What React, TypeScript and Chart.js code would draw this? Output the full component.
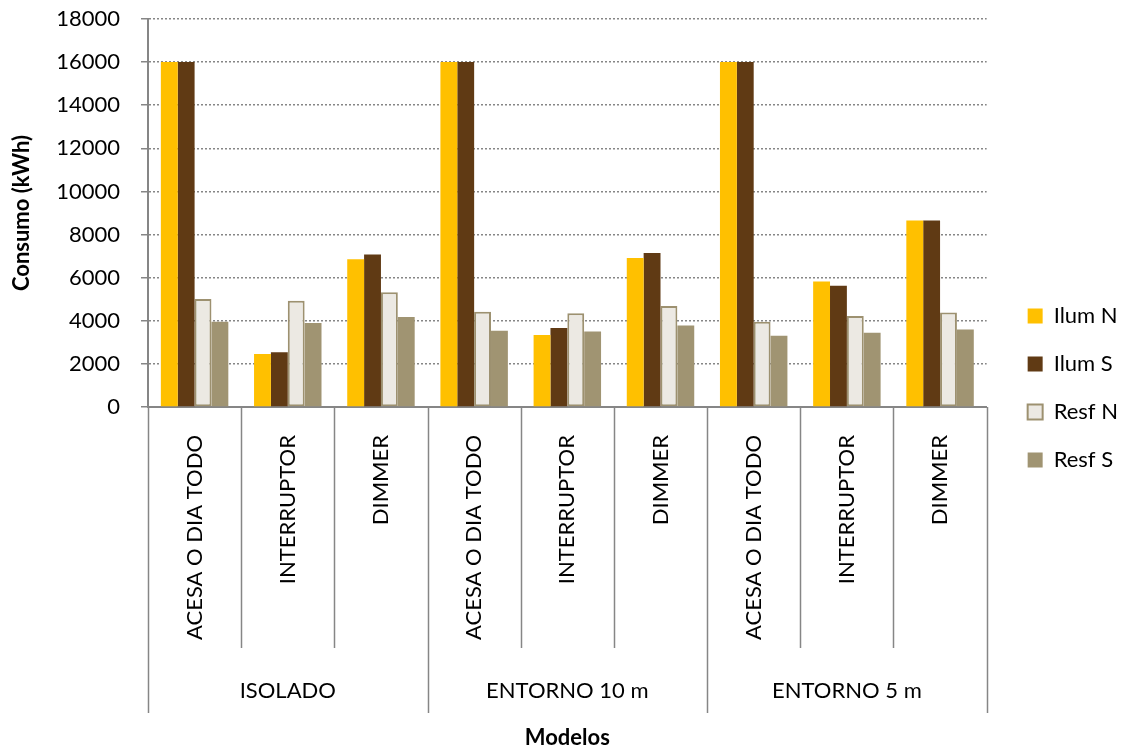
import React, { useEffect, useRef } from 'react';
import { Chart, registerables } from 'chart.js';

Chart.register(...registerables);

const categories = [
  'ACESA O DIA TODO', 'INTERRUPTOR', 'DIMMER',
  'ACESA O DIA TODO', 'INTERRUPTOR', 'DIMMER',
  'ACESA O DIA TODO', 'INTERRUPTOR', 'DIMMER',
];
const groups = ['ISOLADO', 'ENTORNO 10 m', 'ENTORNO 5 m'];
const seriesNames = ['Ilum N', 'Ilum S', 'Resf N', 'Resf S'];
const ilumN = [16000, 2460, 6850, 16000, 3340, 6910, 16000, 5820, 8650];
const ilumS = [16000, 2540, 7080, 16000, 3660, 7140, 16000, 5620, 8650];
const resfN = [5010, 4930, 5320, 4420, 4350, 4690, 3960, 4220, 4380];
const resfS = [3960, 3900, 4170, 3540, 3500, 3780, 3310, 3450, 3600];
const yMin = 0;
const yMax = 18000;
const yStep = 2000;
const yTitle = 'Consumo (kWh)';
const xTitle = 'Modelos';

const FONT = 'Lato, "Open Sans", sans-serif';
const GREY = '#868686';

const groupPlugin = {
  id: 'groupAxis',
  afterDraw(chart: any) {
    const { ctx, chartArea } = chart;
    const x = chart.scales.x;
    const bottom = chartArea.bottom;
    const n = categories.length;
    const per = n / groups.length;
    ctx.save();
    ctx.strokeStyle = GREY;
    ctx.lineWidth = 1.5;
    for (let i = 0; i <= n; i++) {
      const px = Math.round(x.getPixelForValue(i - 0.5)) + 0.5;
      const isGroup = i % per === 0;
      ctx.beginPath();
      ctx.moveTo(px, bottom);
      ctx.lineTo(px, bottom + (isGroup ? 306 : 241));
      ctx.stroke();
    }
    ctx.fillStyle = '#000';
    ctx.font = `22px ${FONT}`;
    ctx.textAlign = 'center';
    ctx.textBaseline = 'middle';
    groups.forEach((g, gi) => {
      const l = x.getPixelForValue(gi * per - 0.5);
      const r = x.getPixelForValue(gi * per + per - 0.5);
      ctx.fillText(g, (l + r) / 2, bottom + 284);
    });
    ctx.restore();
  },
};

export default function App() {
  const ref = useRef<HTMLCanvasElement | null>(null);
  useEffect(() => {
    document.body.style.margin = '0';
    const canvas = ref.current!;
    const chart = new Chart(canvas, {
      type: 'bar',
      data: {
        labels: categories,
        datasets: [
          { label: seriesNames[0], data: ilumN, backgroundColor: '#FFC000', borderWidth: 0 },
          { label: seriesNames[1], data: ilumS, backgroundColor: '#603A14', borderWidth: 0 },
          { label: seriesNames[2], data: resfN, backgroundColor: '#ECE9E3', borderColor: '#9D9170', borderWidth: 2, borderSkipped: false },
          { label: seriesNames[3], data: resfS, backgroundColor: '#A09472', borderWidth: 0 },
        ],
      },
      options: {
        responsive: false,
        animation: false,
        layout: { padding: { left: 0, top: 19, right: 0, bottom: -7 } },
        datasets: { bar: { categoryPercentage: 0.724, barPercentage: 1 } },
        plugins: {
          tooltip: { enabled: false },
          legend: {
            position: 'right',
            align: 'center',
            labels: {
              boxWidth: 15,
              boxHeight: 15,
              padding: 26,
              color: '#000',
              font: { family: FONT, size: 22 },
            },
          },
        },
        scales: {
          x: {
            type: 'category',
            offset: true,
            grid: { display: false, drawTicks: false },
            border: { display: true, color: GREY, width: 2 },
            ticks: {
              autoSkip: false,
              minRotation: 90,
              maxRotation: 90,
              padding: 28,
              color: '#000',
              font: { family: FONT, size: 22 },
            },
            title: {
              display: true,
              text: xTitle,
              color: '#000',
              font: { family: FONT, size: 22, weight: 'bold' },
              padding: { top: 0, bottom: 6 },
            },
            afterFit(s: any) { s.height = 350; },
          },
          y: {
            min: yMin,
            max: yMax,
            grid: {
              color: GREY,
              lineWidth: 1.5,
              tickLength: 7,
              tickColor: GREY,
              tickWidth: 1.5,
              tickBorderDash: [],
            },
            border: { display: true, color: GREY, width: 2, dash: [2, 2] },
            ticks: {
              stepSize: yStep,
              padding: 21,
              color: '#000',
              font: { family: FONT, size: 22 },
              callback: (v: any) => String(v),
            },
            title: {
              display: true,
              text: yTitle,
              color: '#000',
              font: { family: FONT, size: 22, weight: 'bold' },
              padding: { top: 9, bottom: 0 },
            },
            afterFit(s: any) { s.width = 148; s.paddingTop = 0; s.paddingBottom = 0; },
          },
          yR: {
            position: 'right',
            display: true,
            grid: { display: false, drawTicks: false },
            border: { display: false },
            ticks: { display: false },
            afterFit(s: any) { s.width = 15; s.paddingTop = 0; s.paddingBottom = 0; },
          },
        },
      },
      plugins: [groupPlugin],
    } as any);
    return () => chart.destroy();
  }, []);
  return (
    <div style={{ position: 'absolute', left: 0, top: 0, width: 1128, height: 750 }}>
      <canvas ref={ref} width={1128} height={750} />
    </div>
  );
}
